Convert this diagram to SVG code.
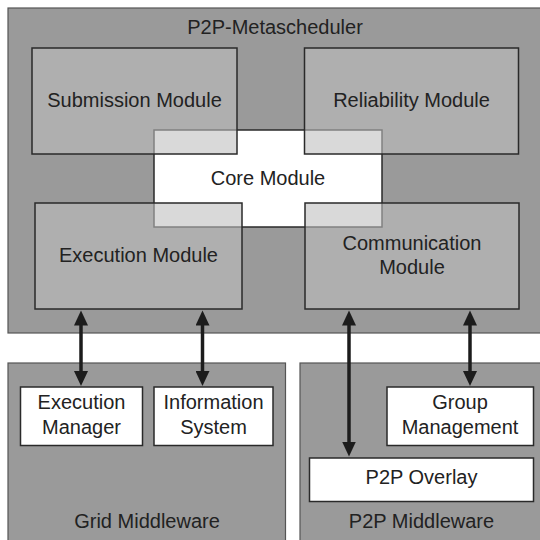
<svg xmlns="http://www.w3.org/2000/svg" width="540" height="540" viewBox="0 0 540 540">
  <defs>
    <style>
      text { font-family: "Liberation Sans", Arial, sans-serif; font-size: 20px; fill: #222; text-anchor: middle; }
      .container { fill: #9a9a9a; stroke: #555; stroke-width: 1.2; }
      .module { fill: #bebebe; fill-opacity: 0.59; stroke: #2a2a2a; stroke-width: 1.5; }
      .core { fill: #ffffff; stroke: #2a2a2a; stroke-width: 1.5; }
      .leaf { fill: #ffffff; stroke: #2a2a2a; stroke-width: 1.5; }
      .conn { stroke: #1c1c1c; stroke-width: 3.5; fill: none; marker-start: url(#ah); marker-end: url(#ah); }
    </style>
    <marker id="ah" markerUnits="userSpaceOnUse" markerWidth="16" markerHeight="14" refX="0.5" refY="7" orient="auto-start-reverse" viewBox="0 0 16 14">
      <path d="M0,0 L15,7 L0,14 z" fill="#1c1c1c"/>
    </marker>
  </defs>

  <g id="p2p-metascheduler">
    <rect class="container" x="8" y="8" width="545" height="325"/>
    <text x="275" y="34">P2P-Metascheduler</text>
  </g>

  <g id="core-module">
    <rect class="core" x="154" y="130" width="228" height="97"/>
    <text x="268" y="185">Core Module</text>
  </g>

  <g id="submission-module">
    <rect class="module" x="32" y="48" width="205" height="106"/>
    <text x="134.5" y="107">Submission Module</text>
  </g>

  <g id="reliability-module">
    <rect class="module" x="304.5" y="48" width="214" height="106"/>
    <text x="411.5" y="107">Reliability Module</text>
  </g>

  <g id="execution-module">
    <rect class="module" x="35" y="203" width="207" height="106"/>
    <text x="138.5" y="262">Execution Module</text>
  </g>

  <g id="communication-module">
    <rect class="module" x="305" y="203" width="214" height="106"/>
    <text x="412" y="250">Communication</text>
    <text x="412" y="274">Module</text>
  </g>

  <g id="grid-middleware">
    <rect class="container" x="8" y="363" width="277.5" height="190"/>
    <text x="147" y="528">Grid Middleware</text>
  </g>

  <g id="execution-manager">
    <rect class="leaf" x="20.5" y="387" width="122" height="58.5"/>
    <text x="81.5" y="409">Execution</text>
    <text x="81.5" y="433.5">Manager</text>
  </g>

  <g id="information-system">
    <rect class="leaf" x="154" y="387" width="119" height="58.5"/>
    <text x="213.5" y="409">Information</text>
    <text x="213.5" y="433.5">System</text>
  </g>

  <g id="p2p-middleware">
    <rect class="container" x="300" y="363" width="260" height="190"/>
    <text x="421.5" y="528">P2P Middleware</text>
  </g>

  <g id="group-management">
    <rect class="leaf" x="387" y="387" width="146.5" height="58.5"/>
    <text x="460" y="409">Group</text>
    <text x="460" y="433.5">Management</text>
  </g>

  <g id="p2p-overlay">
    <rect class="leaf" x="309.5" y="458" width="224" height="43.5"/>
    <text x="421.5" y="483.5">P2P Overlay</text>
  </g>

  <g id="connectors">
    <line class="conn" x1="81" y1="325" x2="81" y2="371.5"/>
    <line class="conn" x1="202.5" y1="325" x2="202.5" y2="371.5"/>
    <line class="conn" x1="349" y1="325" x2="349" y2="442"/>
    <line class="conn" x1="470" y1="325" x2="470" y2="371.5"/>
  </g>
</svg>
